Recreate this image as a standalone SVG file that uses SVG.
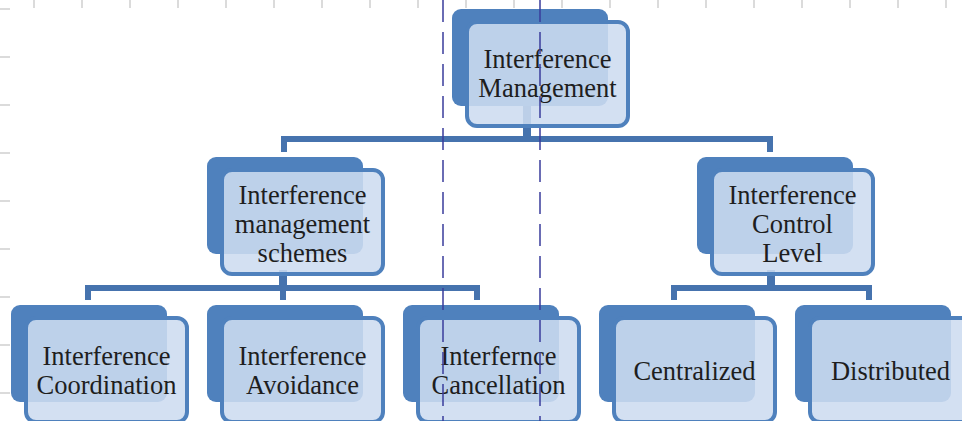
<svg xmlns="http://www.w3.org/2000/svg" width="962" height="421" viewBox="0 0 962 421">
  <defs>
    <style>
      .tick { stroke: #cfcfcf; stroke-width: 1.5; }
      .guide { stroke: #3a3c9c; stroke-width: 1.5; stroke-dasharray: 22 10; fill: none; }
      .back { fill: #4f81bd; }
      .front { fill: #cddcf0; fill-opacity: 0.88; stroke: #4f81bd; stroke-width: 4; }
      .bar { fill: none; stroke: #4673ae; stroke-width: 6; stroke-linejoin: miter; stroke-linecap: butt; }
      .stem { fill: none; stroke: #4673ae; stroke-width: 8; }
      .label { font-family: "Liberation Serif", "Times New Roman", serif; font-size: 26.5px; fill: #1e1e1e; text-anchor: middle; }
    </style>
  </defs>

  <rect width="962" height="421" fill="#ffffff"/>

  <!-- ruler ticks -->
  <g id="ruler">
    <path class="tick" d="M34 0V8M82 0V8M130 0V8M178 0V8M226 0V8M274 0V8M322 0V8M370 0V8M418 0V8M466 0V8M514 0V8M562 0V8M610 0V8M658 0V8M706 0V8M754 0V8M802 0V8M850 0V8M898 0V8M946 0V8"/>
    <path class="tick" d="M0 9H10M0 57H10M0 105H10M0 153H10M0 201H10M0 249H10M0 297H10M0 345H10M0 393H10"/>
  </g>

  <!-- connectors -->
  <g id="connectors">
    <path class="stem" d="M527 100V139"/>
    <path class="bar" d="M284 152V139H770V152"/>
    <path class="stem" d="M283 270V288"/>
    <path class="bar" d="M88 300V288H477V300M283 288V300"/>
    <path class="stem" d="M771 270V288"/>
    <path class="bar" d="M674 300V288H869V300"/>
  </g>

  <!-- nodes -->
  <g id="node-management">
    <rect class="back" x="452" y="9" width="156" height="97" rx="9"/>
    <rect class="front" x="467" y="22" width="161" height="104" rx="10"/>
    <text class="label" x="547.5" y="68">Interference</text>
    <text class="label" x="547.5" y="97">Management</text>
  </g>

  <g id="node-schemes">
    <rect class="back" x="207" y="157" width="156" height="97" rx="9"/>
    <rect class="front" x="222" y="170" width="161" height="104" rx="10"/>
    <text class="label" x="302.5" y="204">Interference</text>
    <text class="label" x="302.5" y="233">management</text>
    <text class="label" x="302.5" y="262">schemes</text>
  </g>

  <g id="node-control-level">
    <rect class="back" x="697" y="157" width="156" height="97" rx="9"/>
    <rect class="front" x="712" y="170" width="161" height="104" rx="10"/>
    <text class="label" x="792.5" y="204">Interference</text>
    <text class="label" x="792.5" y="233">Control</text>
    <text class="label" x="792.5" y="262">Level</text>
  </g>

  <g id="node-coordination">
    <rect class="back" x="11" y="305" width="156" height="97" rx="9"/>
    <rect class="front" x="26" y="318" width="161" height="104" rx="10"/>
    <text class="label" x="106.5" y="365">Interference</text>
    <text class="label" x="106.5" y="394">Coordination</text>
  </g>

  <g id="node-avoidance">
    <rect class="back" x="207" y="305" width="156" height="97" rx="9"/>
    <rect class="front" x="222" y="318" width="161" height="104" rx="10"/>
    <text class="label" x="302.5" y="365">Interference</text>
    <text class="label" x="302.5" y="394">Avoidance</text>
  </g>

  <g id="node-cancellation">
    <rect class="back" x="403" y="305" width="156" height="97" rx="9"/>
    <rect class="front" x="418" y="318" width="161" height="104" rx="10"/>
    <text class="label" x="498.5" y="365">Interfernce</text>
    <text class="label" x="498.5" y="394">Cancellation</text>
  </g>

  <g id="node-centralized">
    <rect class="back" x="599" y="305" width="156" height="97" rx="9"/>
    <rect class="front" x="614" y="318" width="161" height="104" rx="10"/>
    <text class="label" x="694.5" y="380">Centralized</text>
  </g>

  <g id="node-distributed">
    <rect class="back" x="795" y="305" width="156" height="97" rx="9"/>
    <rect class="front" x="810" y="318" width="161" height="104" rx="10"/>
    <text class="label" x="890.5" y="380">Distributed</text>
  </g>

  <!-- vertical guide lines -->
  <g id="guides">
    <path class="guide" d="M443 0V421"/>
    <path class="guide" d="M540 0V421"/>
  </g>
</svg>
